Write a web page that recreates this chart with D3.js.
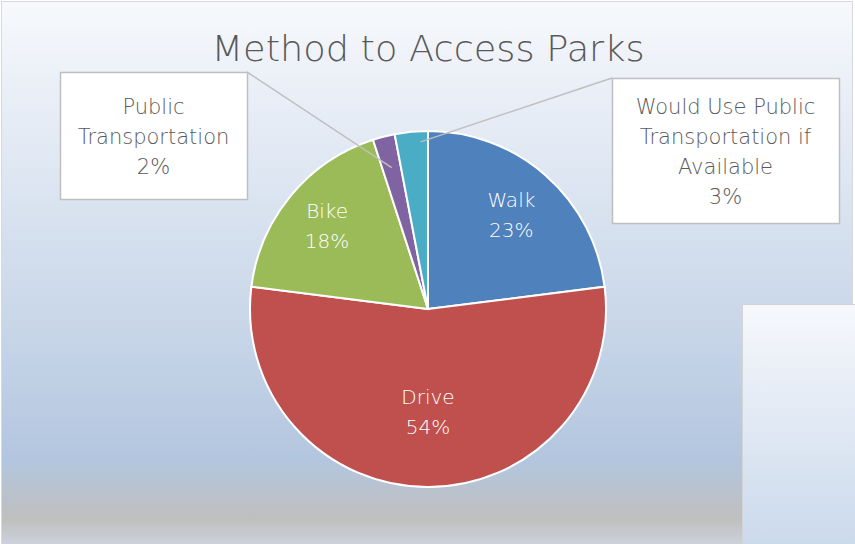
<!DOCTYPE html>
<html>
<head>
<meta charset="utf-8">
<script src="https://cdn.jsdelivr.net/npm/d3@7"></script>
<style>
  html, body { margin: 0; padding: 0; background: #fff; }
  svg { display: block; font-family: "DejaVu Sans", sans-serif; font-weight: 200; }
</style>
</head>
<body>
<div id="chart"></div>
<script>
var categories = ['Walk', 'Drive', 'Bike', 'Public Transportation', 'Would Use Public Transportation if Available']
var values = [23, 54, 18, 2, 3]
var colors = ['#4f81bd', '#c0504d', '#9bbb59', '#8064a2', '#4bacc6']

var width = 855, height = 544
var cx = 428, cy = 309, R = 178

var svg = d3.select('#chart').append('svg')
  .attr('width', width).attr('height', height)

var defs = svg.append('defs')
var bg = defs.append('linearGradient').attr('id', 'bg')
  .attr('x1', 0).attr('y1', 0).attr('x2', 0).attr('y2', 1)
;[[0, '#f7f9fc'], [0.2, '#e7edf6'], [0.55, '#ccd9ea'], [0.84, '#b3c6df'], [0.95, '#bfbfbf'], [1, '#cdd4de']]
  .forEach(d => bg.append('stop').attr('offset', d[0]).attr('stop-color', d[1]))

var bg2 = defs.append('linearGradient').attr('id', 'bg2')
  .attr('x1', 0).attr('y1', 0).attr('x2', 0).attr('y2', 1)
;[[0, '#f6f8fc'], [1, '#c9d8eb']]
  .forEach(d => bg2.append('stop').attr('offset', d[0]).attr('stop-color', d[1]))

svg.append('rect').attr('x', 1.5).attr('y', 1.5).attr('width', 851).attr('height', 545)
  .attr('fill', 'url(#bg)').attr('stroke', '#d9d9d9')

svg.append('rect').attr('x', 742.5).attr('y', 304.5).attr('width', 120).attr('height', 250)
  .attr('fill', 'url(#bg2)').attr('stroke', '#d4d4d4')

svg.append('text').text('Method to Access Parks')
  .attr('x', 428).attr('y', 61).attr('text-anchor', 'middle')
  .attr('font-size', 36).attr('fill', '#595959')
  .attr('textLength', 433).attr('lengthAdjust', 'spacingAndGlyphs')

var pie = d3.pie().sort(null).value(d => d.v)
var data = categories.map((c, i) => ({name: c, v: values[i], color: colors[i]}))
var arcs = pie(data)
var arc = d3.arc().innerRadius(0).outerRadius(R)

var g = svg.append('g').attr('transform', `translate(${cx},${cy})`)
g.selectAll('path').data(arcs).join('path')
  .attr('d', arc)
  .attr('fill', d => d.data.color)
  .attr('stroke', '#fff').attr('stroke-width', 2)

// inside labels
var labelR = {Walk: 126, Drive: 103, Bike: 131}
arcs.filter(d => labelR[d.data.name]).forEach(d => {
  var a = (d.startAngle + d.endAngle) / 2
  var r = labelR[d.data.name]
  var x = Math.sin(a) * r, y = -Math.cos(a) * r
  var t = g.append('text').attr('text-anchor', 'middle')
    .attr('fill', '#fff').attr('font-size', 20)
  t.append('tspan').attr('x', x).attr('y', y - 8).text(d.data.name)
  t.append('tspan').attr('x', x).attr('y', y + 22).text(d.data.v + '%')
})

// callout boxes
var callouts = [
  {name: 'Public Transportation', lines: ['Public', 'Transportation', '2%'], box: [60, 72, 187, 127], corner: [247, 72], r: 0.82},
  {name: 'Would Use Public Transportation if Available', lines: ['Would Use Public', 'Transportation if', 'Available', '3%'], box: [612, 78, 227, 145], corner: [612, 78], r: 0.94}
]
callouts.forEach(c => {
  var d = arcs.find(a => a.data.name == c.name)
  var a = (d.startAngle + d.endAngle) / 2 + (c.r > 0.9 ? 0.05 : 0)
  var px = cx + Math.sin(a) * R * c.r, py = cy - Math.cos(a) * R * c.r
  svg.append('line')
    .attr('x1', c.corner[0]).attr('y1', c.corner[1]).attr('x2', px).attr('y2', py)
    .attr('stroke', '#bfbfbf').attr('stroke-width', 1.5)
  svg.append('rect')
    .attr('x', c.box[0] + 0.5).attr('y', c.box[1] + 0.5)
    .attr('width', c.box[2]).attr('height', c.box[3])
    .attr('fill', '#fff').attr('stroke', '#bfbfbf').attr('stroke-width', 1.5)
  var t = svg.append('text').attr('text-anchor', 'middle')
    .attr('fill', '#595959').attr('font-size', 21)
  var mx = c.box[0] + c.box[2] / 2
  var y0 = c.box[1] + c.box[3] / 2 - (c.lines.length - 1) * 30 / 2 + 8
  c.lines.forEach((l, i) => {
    t.append('tspan').attr('x', mx).attr('y', y0 + i * 30).text(l)
  })
})
</script>
</body>
</html>
